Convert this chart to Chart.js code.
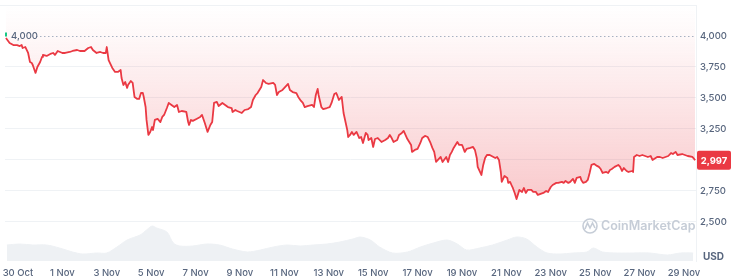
<!DOCTYPE html>
<html>
<head>
<meta charset="utf-8">
<script src="https://cdn.jsdelivr.net/npm/chart.js@4/dist/chart.umd.min.js"></script>
<style>
html,body{margin:0;padding:0;background:#fff;}
canvas{display:block;}
</style>
</head>
<body>
<canvas id="c" width="732" height="279"></canvas>
<script>
// Hours since 30 Oct 00:00 and ETH price (USD)
const priceHours = [-13,-9,-5,-1,2,4,5,8,11,13,15,16,19,21,24,26,27,31,35,38,40,43,48,51,56,59,64,67,72,76,79,81,85,89,92,95,96,98,102,105,108,
111,112,114,116,118,119,122,124,126,129,131,133,135,136,138,139,141,143,145,146,148,151,154,156,158,161,163,166,169,172,174,177,182,184,185,187,189,193,197,199,202,205,208,210,212,215,217,221,224,227,231,232,235,
237,242,245,249,252,254,257,259,263,265,268,271,276,278,280,282,286,290,292,294,297,301,303,306,308,310,313,318,320,322,324,325,328,330,334,337,339,342,344,345,347,350,352,356,357,
359,361,363,366,369,371,373,376,378,379,382,384,386,389,391,393,397,400,402,404,406,410,412,415,417,421,423,425,426,429,432,435,437,440,443,446,448,450,452,454,457,459,463,465,467,469,471,475,477,480,
481,483,485,489,492,494,496,497,501,503,505,507,510,514,516,518,520,522,523,524,526,529,530,532,534,535,537,539,542,545,547,549,551,555,557,560,562,565,568,571,573,576,578,582,584,588,590,592,595,597,600,602,604,608,
609,611,614,616,618,620,623,626,628,630,632,636,638,640,642,645,649,651,653,655,658,660,664,665,666,669,672,675,678,681,684,686,691,694,697,700,703,706,708,711,713,718,721,724,729,731,732];
const prices = [3984,3944,3927,3927,3919,3927,3903,3911,3863,3790,3782,3766,3702,3750,3790,3831,3847,3839,3855,3863,3847,3879,3863,3863,3871,3879,3887,3879,3879,3903,3911,3887,3863,3871,3863,3863,3911,3806,3742,3710,3710,
3726,3661,3605,3629,3581,3605,3637,3621,3508,3492,3492,3540,3540,3508,3427,3323,3202,3226,3266,3242,3323,3331,3306,3347,3363,3419,3460,3444,3427,3444,3387,3395,3387,3306,3282,3323,3315,3331,3347,3363,3298,3226,3282,3306,3460,3468,3435,3460,3444,3427,3419,3387,3403,
3395,3379,3403,3411,3427,3484,3524,3540,3589,3645,3621,3613,3621,3605,3524,3548,3565,3597,3613,3565,3548,3540,3508,3476,3460,3427,3435,3444,3427,3524,3573,3524,3427,3411,3419,3427,3460,3532,3540,3524,3484,3508,3379,3242,3185,
3202,3226,3202,3226,3177,3185,3137,3218,3202,3161,3177,3105,3169,3177,3161,3145,3161,3177,3202,3177,3145,3161,3202,3218,3234,3169,3145,3121,3065,3081,3089,3137,3177,3194,3185,3137,3097,3065,2984,3000,3024,2984,3024,2984,3040,3065,3097,3145,3121,3121,
3105,3065,3089,3097,3105,3081,3016,2944,2879,2960,3016,3040,3040,3024,3016,3024,3000,2903,2823,2839,2871,2855,2815,2823,2790,2774,2734,2685,2758,2742,2774,2734,2758,2758,2742,2742,2718,2726,2734,2750,2742,2782,2798,2815,2815,2823,2815,2831,2815,2823,2847,2815,2855,2863,
2839,2815,2823,2839,2895,2960,2968,2952,2944,2927,2895,2903,2895,2919,2927,2944,2960,2944,2911,2935,2911,2903,2911,2903,3024,3040,3032,3040,3032,3024,3032,3000,3024,3024,3016,3024,3032,3056,3048,3065,3040,3048,3040,3032,3024,3008,2997];

// Volume (billion USD)
const volHours = [-12,2,16,31,45,59,70,85,96,107,118,132,139,145,150,161,168,175,189,204,218,232,248,262,276,291,305,319,334,348,362,370,381,391,405,421,435,449,464,475,485,499,513,529,539,550,561,572,586,600,615,622,632,648,665,683,702,716,730];
const volumes = [16,17,16,16,13,9,7,8,8,14,21,26,31,35,33,29,18,15,15,17,16,12,9,11,14,16,15,16,17,19,22,24,21,14,8,9,14,18,21,17,11,13,16,21,24,22,14,8,7,8,9,13,9,8,8,8,6,8,8];

const xTickHours = [0,48,96,144,192,240,288,336,384,432,480,528,576,624,672,720];
const xTickLabels = ['30 Oct','1 Nov','3 Nov','5 Nov','7 Nov','9 Nov','11 Nov','13 Nov','15 Nov','17 Nov','19 Nov','21 Nov','23 Nov','25 Nov','27 Nov','29 Nov'];
const yTicks = [2500,2750,3000,3250,3500,3750,4000];
const refPrice = 4000;
const lastPrice = prices[prices.length-1];

const RED = '#ea3943';
const GRAY = '#58667e';
const FONT = 'Inter, "Noto Sans", sans-serif';

const overlay = {
  id: 'overlay',
  beforeDatasetsDraw(chart) {
    const {ctx, chartArea} = chart;
    ctx.save();
    ctx.strokeStyle = '#eff2f5';
    ctx.lineWidth = 1;
    ctx.beginPath();
    ctx.moveTo(0, chartArea.top + 0.5);
    ctx.lineTo(chartArea.right, chartArea.top + 0.5);
    ctx.stroke();
    ctx.restore();
  },
  afterDraw(chart) {
    const {ctx, chartArea, scales} = chart;
    const y = scales.y;
    ctx.save();
    // dotted reference line
    const yr = Math.round(y.getPixelForValue(refPrice)) + 0.5;
    ctx.strokeStyle = '#a7b1c2';
    ctx.lineWidth = 1;
    ctx.setLineDash([1.5, 2.5]);
    ctx.beginPath();
    ctx.moveTo(36, yr);
    ctx.lineTo(chartArea.right, yr);
    ctx.stroke();
    ctx.setLineDash([]);
    // left ref label
    ctx.font = '500 9.5px ' + FONT;
    ctx.fillStyle = GRAY;
    ctx.textAlign = 'left';
    ctx.textBaseline = 'middle';
    ctx.fillText(refPrice.toLocaleString('en-US'), 11, yr);
    ctx.fillStyle = '#16c784';
    ctx.fillRect(5, yr - 4, 2, 4);
    // last price tag
    const yl = y.getPixelForValue(lastPrice);
    const bx = chartArea.right + 1, bw = 731 - bx, bh = 19;
    ctx.fillStyle = RED;
    ctx.beginPath();
    ctx.roundRect(bx, yl - bh/2, bw, bh, 2);
    ctx.fill();
    ctx.fillStyle = '#fff';
    ctx.font = '700 9.5px ' + FONT;
    ctx.textAlign = 'center';
    ctx.fillText(lastPrice.toLocaleString('en-US'), bx + bw/2, yl + 0.5);
    // USD label
    ctx.fillStyle = GRAY;
    ctx.font = '700 10px ' + FONT;
    ctx.textAlign = 'left';
    ctx.fillText('USD', 703, 257);
    // watermark
    ctx.strokeStyle = '#c6cdd7';
    ctx.lineWidth = 1.6;
    ctx.beginPath();
    ctx.arc(590, 226, 7, 0, Math.PI*2);
    ctx.stroke();
    ctx.beginPath();
    ctx.moveTo(585, 229);
    ctx.lineTo(587.5, 223);
    ctx.lineTo(590, 228);
    ctx.lineTo(592.5, 223);
    ctx.lineTo(595, 228);
    ctx.stroke();
    ctx.fillStyle = '#c6cdd7';
    ctx.font = '600 12.5px ' + FONT;
    ctx.textAlign = 'left';
    ctx.fillText('CoinMarketCap', 601, 226.5);
    ctx.restore();
  }
};

new Chart(document.getElementById('c'), {
  type: 'line',
  data: {
    datasets: [
      {
        label: 'Price',
        data: priceHours.map((h, i) => ({x: h, y: prices[i]})),
        yAxisID: 'y',
        borderColor: RED,
        borderWidth: 1.8,
        pointRadius: 0,
        tension: 0,
        borderJoinStyle: 'round',
        fill: 'end',
        order: 0,
        backgroundColor: (c) => {
          const {chart} = c;
          const ca = chart.chartArea;
          if (!ca) return 'rgba(234,57,67,0.1)';
          const g = chart.ctx.createLinearGradient(0, ca.top, 0, 205);
          g.addColorStop(0, 'rgba(234,57,67,0.0)');
          g.addColorStop(0.15, 'rgba(234,57,67,0.03)');
          g.addColorStop(1, 'rgba(234,57,67,0.28)');
          return g;
        }
      },
      {
        label: 'Volume',
        data: volHours.map((h, i) => ({x: h, y: volumes[i]})),
        yAxisID: 'v',
        borderColor: '#eef1f4',
        borderWidth: 1,
        backgroundColor: '#eef1f4',
        pointRadius: 0,
        tension: 0.3,
        fill: 'origin',
        order: 1
      }
    ]
  },
  options: {
    responsive: false,
    animation: false,
    devicePixelRatio: 1,
    layout: {padding: {left: 5, top: 5, right: 0, bottom: 0}},
    plugins: {legend: {display: false}, tooltip: {enabled: false}},
    scales: {
      x: {
        type: 'linear',
        min: -14,
        max: 733,
        grid: {display: false, drawTicks: false},
        border: {display: false},
        afterBuildTicks: s => { s.ticks = xTickHours.map(v => ({value: v})); },
        afterFit: s => { s.height = 18; s.paddingLeft = 0; s.paddingRight = 0; s.paddingTop = 0; s.paddingBottom = 0; },
        ticks: {
          autoSkip: false,
          maxRotation: 0,
          padding: 6,
          color: GRAY,
          font: {family: FONT, size: 9.5, weight: '500'},
          callback: (v) => { const i = xTickHours.indexOf(v); return i >= 0 ? xTickLabels[i] : ''; }
        }
      },
      y: {
        position: 'right',
        min: 2185,
        max: 4250,
        afterBuildTicks: s => { s.ticks = yTicks.map(v => ({value: v})); },
        afterFit: s => { s.width = 36; s.paddingTop = 0; s.paddingBottom = 0; s.paddingLeft = 0; s.paddingRight = 0; },
        grid: {
          drawTicks: false,
          color: (c) => c.tick && c.tick.value === refPrice ? 'rgba(0,0,0,0)' : '#eff2f5',
          lineWidth: 1
        },
        border: {display: true, color: '#eff2f5'},
        ticks: {
          padding: 4,
          color: GRAY,
          font: {family: FONT, size: 9.5, weight: '500'},
          callback: v => v.toLocaleString('en-US')
        }
      },
      v: {
        display: false,
        min: 0,
        max: 256
      }
    }
  },
  plugins: [overlay]
});
</script>
</body>
</html>
